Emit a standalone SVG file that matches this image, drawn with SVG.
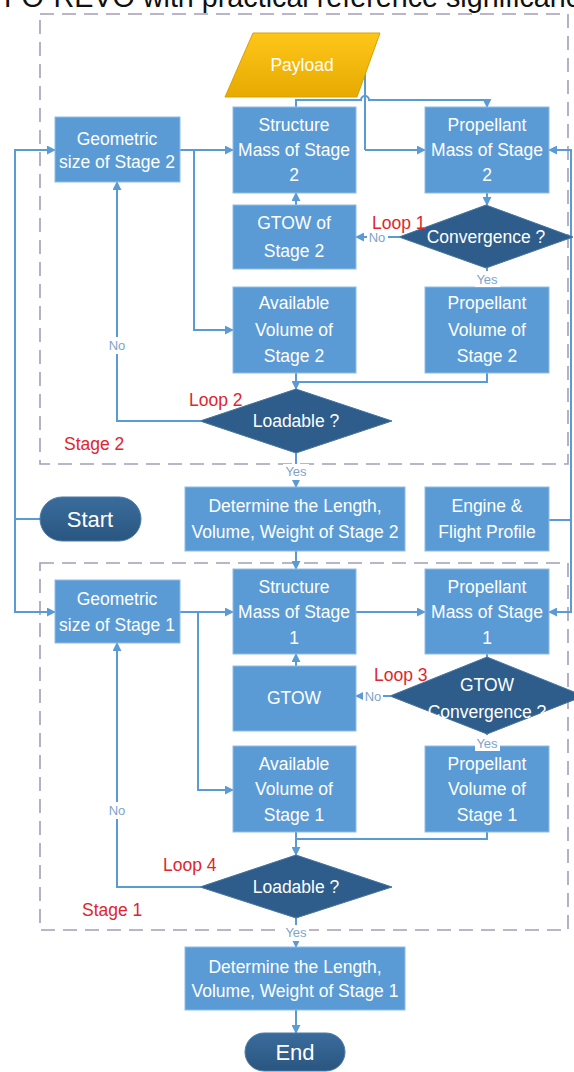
<svg xmlns="http://www.w3.org/2000/svg" width="574" height="1072" viewBox="0 0 574 1072">
<defs>
<style>
.box{fill:#5B9BD5;stroke:#8FBCE6;stroke-width:1}
.dia{fill:#2E5D8B;stroke:#47759F;stroke-width:1}
.pill{fill:url(#pillg);stroke:#4B7BA8;stroke-width:1}
.t{font-family:"Liberation Sans",Arial,sans-serif;font-size:17.5px;fill:#FFFFFF;text-anchor:middle}
.big{font-size:22px}
.red{font-family:"Liberation Sans",Arial,sans-serif;font-size:17.5px;fill:#E0262B}
.lbl{font-family:"Liberation Sans",Arial,sans-serif;font-size:13px;fill:#7FA3C8;text-anchor:middle}
.dash{fill:none;stroke:#A49EB6;stroke-width:1.6;stroke-dasharray:14 8}
.c{fill:none;stroke:#5B9BD5;stroke-width:2}
.ca{fill:none;stroke:#5B9BD5;stroke-width:2;marker-end:url(#ah)}
</style>
<marker id="ah" viewBox="0 0 10 10" refX="9" refY="5" markerWidth="9" markerHeight="9" markerUnits="userSpaceOnUse" orient="auto">
<path d="M0,0 L10,5 L0,10 z" fill="#5B9BD5"/>
</marker>
<linearGradient id="gold" x1="0" y1="0" x2="0" y2="1">
<stop offset="0" stop-color="#FFC61A"/>
<stop offset="1" stop-color="#E6AA00"/>
</linearGradient>
<linearGradient id="pillg" x1="0" y1="0" x2="0" y2="1">
<stop offset="0" stop-color="#3A6C9C"/>
<stop offset="1" stop-color="#2A5680"/>
</linearGradient>
</defs>

<text x="4" y="7" font-family="Liberation Sans,Arial,sans-serif" font-size="30" fill="#111" textLength="592" lengthAdjust="spacingAndGlyphs">FO-REVO with practical reference significance</text>

<g id="stage2-frame"><rect class="dash" x="40" y="14" width="528" height="450"/></g>
<g id="stage1-frame"><rect class="dash" x="40" y="563" width="528" height="367"/></g>

<g id="connectors">
<path class="c" d="M365,65 V150"/>
<path class="ca" d="M365,150 H425"/>
<path class="ca" d="M296,107 V100 H361 A4,4 0 0 1 369,100 H487 V107"/>
<path class="ca" d="M180,150 H233"/>
<path class="ca" d="M194,150 V330 H233"/>
<path class="ca" d="M296,205 V193"/>
<path class="ca" d="M487,193 V205"/>
<path class="ca" d="M399,237 H356"/>
<path class="c" d="M487,268 V287"/>
<path class="ca" d="M296,373 V389"/>
<path class="c" d="M487,373 V382 H296"/>
<path class="ca" d="M200,421 H117 V182"/>
<path class="ca" d="M296,453 V487"/>
<path class="ca" d="M296,551 V569"/>
<path class="ca" d="M40,519 H15 V150 H55"/>
<path class="ca" d="M15,519 V612 H55"/>
<path class="ca" d="M549,520 H571 V150 H549"/>
<path class="ca" d="M571,520 V612 H549"/>
<path class="ca" d="M180,612 H233"/>
<path class="ca" d="M198,612 V790 H233"/>
<path class="ca" d="M356,612 H425"/>
<path class="ca" d="M296,666 V654"/>
<path class="ca" d="M390,696 H356"/>
<path class="c" d="M487,654 V657"/>
<path class="c" d="M487,734 V746"/>
<path class="ca" d="M296,832 V855"/>
<path class="c" d="M487,832 V839 H296"/>
<path class="ca" d="M200,887 H117 V643"/>
<path class="ca" d="M296,918 V947"/>
<path class="ca" d="M296,1010 V1033"/>
<rect x="367" y="231" width="21" height="13" fill="#fff"/>
<text class="lbl" x="377" y="242">No</text>
<rect x="363" y="690" width="20" height="13" fill="#fff"/>
<text class="lbl" x="373" y="701">No</text>
<rect x="106" y="337" width="22" height="17" fill="#fff"/>
<text class="lbl" x="117" y="350" font-size="14">No</text>
<rect x="106" y="802" width="22" height="17" fill="#fff"/>
<text class="lbl" x="117" y="815" font-size="14">No</text>
</g>

<g id="payload">
<polygon points="253,33 380,33 357,97 225,97" fill="url(#gold)" stroke="#D9A200" stroke-width="1"/>
<text class="t" x="302" y="71">Payload</text>
</g>

<g id="geo2"><rect class="box" x="55" y="117" width="125" height="65"/>
<text class="t" x="117" y="145">Geometric</text><text class="t" x="117" y="168">size of Stage 2</text></g>

<g id="struct2"><rect class="box" x="233" y="107" width="123" height="86"/>
<text class="t" x="294" y="131">Structure</text><text class="t" x="294" y="156">Mass of Stage</text><text class="t" x="294" y="181">2</text></g>

<g id="prop2"><rect class="box" x="425" y="107" width="124" height="86"/>
<text class="t" x="487" y="131">Propellant</text><text class="t" x="487" y="156">Mass of Stage</text><text class="t" x="487" y="181">2</text></g>

<g id="gtow2"><rect class="box" x="233" y="205" width="123" height="64"/>
<text class="t" x="294" y="229">GTOW of</text><text class="t" x="294" y="257">Stage 2</text></g>

<g id="conv2"><polygon class="dia" points="399,237 486,205 573,237 486,268"/>
<text class="t" x="486" y="243">Convergence ?</text></g>
<text class="red" x="372" y="229">Loop 1</text>

<g id="avail2"><rect class="box" x="233" y="287" width="123" height="86"/>
<text class="t" x="294" y="309">Available</text><text class="t" x="294" y="336">Volume of</text><text class="t" x="294" y="362">Stage 2</text></g>

<g id="propvol2"><rect class="box" x="425" y="287" width="124" height="86"/>
<text class="t" x="487" y="309">Propellant</text><text class="t" x="487" y="336">Volume of</text><text class="t" x="487" y="362">Stage 2</text></g>
<rect x="475" y="271" width="25" height="16" fill="#fff"/>
<text class="lbl" x="487" y="284" font-size="14">Yes</text>

<g id="load2"><polygon class="dia" points="200,421 296,389 392,421 296,453"/>
<text class="t" x="296" y="427">Loadable ?</text></g>
<text class="red" x="189" y="406">Loop 2</text>
<text class="red" x="64" y="450">Stage 2</text>
<rect x="283" y="464" width="26" height="16" fill="#fff"/>
<text class="lbl" x="296" y="476" font-size="14">Yes</text>

<g id="start"><rect class="pill" x="40" y="497" width="101" height="44" rx="22"/>
<text class="t big" x="90" y="527">Start</text></g>

<g id="det2"><rect class="box" x="185" y="487" width="220" height="64"/>
<text class="t" x="295" y="512">Determine the Length,</text><text class="t" x="295" y="538">Volume, Weight of Stage 2</text></g>

<g id="engine"><rect class="box" x="425" y="487" width="124" height="64"/>
<text class="t" x="487" y="512">Engine &amp;</text><text class="t" x="487" y="538">Flight Profile</text></g>

<g id="geo1"><rect class="box" x="55" y="580" width="125" height="63"/>
<text class="t" x="117" y="605">Geometric</text><text class="t" x="117" y="631">size of Stage 1</text></g>

<g id="struct1"><rect class="box" x="233" y="569" width="123" height="85"/>
<text class="t" x="294" y="593">Structure</text><text class="t" x="294" y="618">Mass of Stage</text><text class="t" x="294" y="644">1</text></g>

<g id="prop1"><rect class="box" x="425" y="569" width="124" height="85"/>
<text class="t" x="487" y="593">Propellant</text><text class="t" x="487" y="618">Mass of Stage</text><text class="t" x="487" y="644">1</text></g>

<g id="gtow1"><rect class="box" x="233" y="666" width="123" height="65"/>
<text class="t" x="294" y="704">GTOW</text></g>

<g id="conv1"><polygon class="dia" points="390,696 487,657 584,696 487,734"/>
<text class="t" x="487" y="691">GTOW</text><text class="t" x="487" y="718">Convergence ?</text></g>
<text class="red" x="374" y="681">Loop 3</text>

<g id="avail1"><rect class="box" x="233" y="746" width="123" height="86"/>
<text class="t" x="294" y="770">Available</text><text class="t" x="294" y="795">Volume of</text><text class="t" x="294" y="821">Stage 1</text></g>

<g id="propvol1"><rect class="box" x="425" y="746" width="124" height="86"/>
<text class="t" x="487" y="770">Propellant</text><text class="t" x="487" y="795">Volume of</text><text class="t" x="487" y="821">Stage 1</text></g>
<rect x="475" y="735" width="25" height="16" fill="#fff"/>
<text class="lbl" x="487" y="748" font-size="14">Yes</text>

<g id="load1"><polygon class="dia" points="200,887 296,855 392,887 296,918"/>
<text class="t" x="296" y="893">Loadable ?</text></g>
<text class="red" x="163" y="871">Loop 4</text>
<text class="red" x="82" y="916">Stage 1</text>
<rect x="283" y="925" width="26" height="16" fill="#fff"/>
<text class="lbl" x="296" y="937" font-size="14">Yes</text>

<g id="det1"><rect class="box" x="185" y="947" width="220" height="63"/>
<text class="t" x="295" y="973">Determine the Length,</text><text class="t" x="295" y="997">Volume, Weight of Stage 1</text></g>

<g id="end"><rect class="pill" x="245" y="1033" width="100" height="38" rx="19"/>
<text class="t big" x="295" y="1060">End</text></g>
</svg>
